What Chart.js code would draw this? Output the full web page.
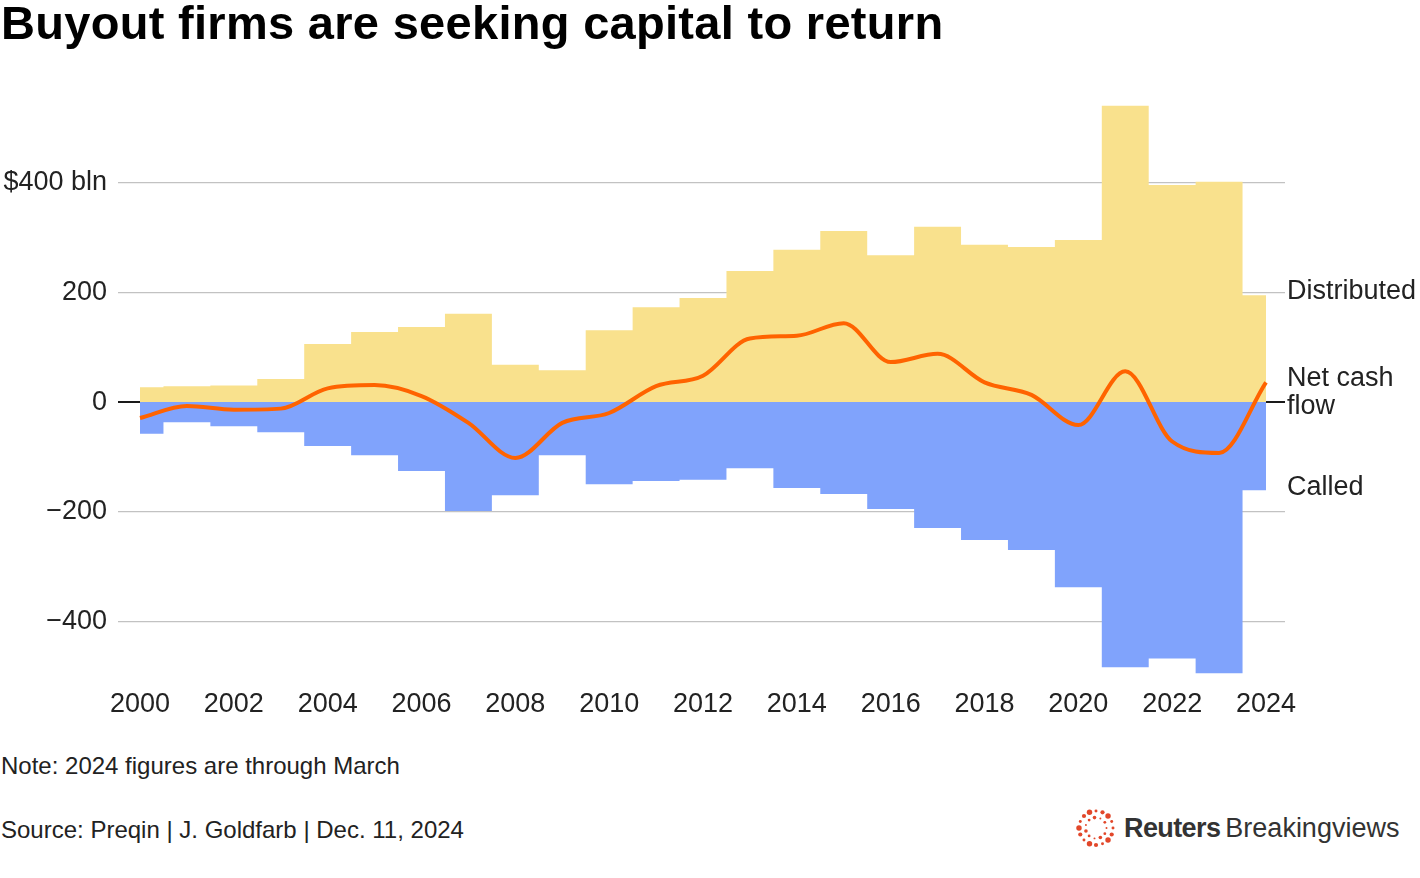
<!DOCTYPE html>
<html lang="en">
<head>
    <meta charset="UTF-8">
    <title>Buyout firms are seeking capital to return</title>
    <script src="https://cdn.jsdelivr.net/npm/chart.js@4.4.1/dist/chart.umd.min.js"></script>
    <style>
        body {
            margin: 0;
            padding: 0;
            background: #fff;
            font-family: 'Liberation Sans', Arial, Helvetica, sans-serif;
            color: #222;
        }

        .page {
            position: relative;
            width: 1420px;
            height: 878px;
            overflow: hidden;
        }

        h1 {
            position: absolute;
            left: 1px;
            top: -5px;
            margin: 0;
            font-size: 47px;
            font-weight: bold;
            letter-spacing: 0.3px;
            color: #000;
        }

        #chart {
            position: absolute;
            left: 0;
            top: 0;
        }

        .note {
            position: absolute;
            left: 1px;
            font-size: 24px;
            color: #222;
        }

        .logo {
            position: absolute;
            left: 1076px;
            top: 808px;
            display: flex;
            align-items: center;
            font-size: 27px;
            color: #333;
        }

        .logo b {
            margin-left: 8px;
            margin-right: 5px;
            letter-spacing: -0.6px;
        }
    </style>
</head>
<body>
    <div class="page">
        <canvas id="chart" width="1420" height="740"></canvas>
        <h1>Buyout firms are seeking capital to return</h1>
        <div class="note" style="top: 752px;">Note: 2024 figures are through March</div>
        <div class="note" style="top: 816px;">Source: Preqin | J. Goldfarb | Dec. 11, 2024</div>
        <div class="logo">
            <svg id="dots" width="40" height="40" viewBox="-20 -20 40 40"></svg>
            <b>Reuters</b><span>Breakingviews</span>
        </div>
    </div>

    <script>
        // Values ($ bln)
        const years = [2000, 2001, 2002, 2003, 2004, 2005, 2006, 2007, 2008, 2009, 2010, 2011,
                       2012, 2013, 2014, 2015, 2016, 2017, 2018, 2019, 2020, 2021, 2022, 2023, 2024];
        const distributed = [27, 29, 30, 42, 106, 128, 137, 161, 68, 58, 131, 173,
                             190, 239, 278, 312, 268, 320, 287, 283, 296, 541, 396, 402, 195];
        const called = [-58, -37, -44, -55, -80, -97, -126, -199, -170, -97, -150, -144,
                        -142, -121, -157, -168, -195, -230, -252, -270, -338, -484, -468, -495, -161];
        const netFlow = [-29, -7, -14, -12, 25, 31, 11, -38, -102, -38, -20, 29,
                         48, 116, 121, 144, 73, 88, 36, 13, -42, 56, -72, -93, 36];
        const xTicks = [2000, 2002, 2004, 2006, 2008, 2010, 2012, 2014, 2016, 2018, 2020, 2022, 2024];
        const yTicks = [-400, -200, 0, 200, 400];

        const toPoints = arr => arr.map((v, i) => ({ x: years[i], y: v }));

        // Series labels to the right of the plot
        const sideLabels = {
            id: 'sideLabels',
            afterDraw(chart) {
                const { ctx, chartArea, scales } = chart;
                const x = chartArea.right + 2;
                ctx.save();
                ctx.font = '27px "Liberation Sans", Arial, sans-serif';
                ctx.fillStyle = '#222';
                ctx.textBaseline = 'middle';
                ctx.fillText('Distributed', x, scales.y.getPixelForValue(201));
                ctx.fillText('Net cash', x, scales.y.getPixelForValue(42));
                ctx.fillText('flow', x, scales.y.getPixelForValue(-8));
                ctx.fillText('Called', x, scales.y.getPixelForValue(-156));
                ctx.restore();
            }
        };

        new Chart(document.getElementById('chart'), {
            type: 'line',
            data: {
                datasets: [
                    {
                        label: 'Net cash flow',
                        data: toPoints(netFlow),
                        borderColor: '#ff6300',
                        borderWidth: 4,
                        pointRadius: 0,
                        fill: false,
                        cubicInterpolationMode: 'monotone',
                        order: 0
                    },
                    {
                        label: 'Distributed',
                        data: toPoints(distributed),
                        stepped: 'middle',
                        borderWidth: 0,
                        pointRadius: 0,
                        backgroundColor: '#f9e18d',
                        fill: 'origin',
                        order: 1
                    },
                    {
                        label: 'Called',
                        data: toPoints(called),
                        stepped: 'middle',
                        borderWidth: 0,
                        pointRadius: 0,
                        backgroundColor: '#80a3fc',
                        fill: 'origin',
                        order: 2
                    }
                ]
            },
            options: {
                responsive: false,
                animation: false,
                layout: {
                    padding: { top: 104, right: 135, left: 0, bottom: 0 }
                },
                plugins: {
                    legend: { display: false },
                    tooltip: { enabled: false }
                },
                scales: {
                    x: {
                        type: 'linear',
                        min: 1999.531,
                        max: 2024.405,
                        afterBuildTicks: s => { s.ticks = xTicks.map(v => ({ value: v })); },
                        afterFit: s => { s.height = 64; },
                        grid: { display: false, drawTicks: false },
                        border: { display: false },
                        ticks: {
                            padding: 12,
                            color: '#222',
                            font: { family: '"Liberation Sans", Arial, sans-serif', size: 27 },
                            callback: v => String(v),
                            maxRotation: 0
                        }
                    },
                    y: {
                        min: -500,
                        max: 544,
                        z: 1,
                        afterBuildTicks: s => { s.ticks = yTicks.map(v => ({ value: v })); },
                        afterFit: s => { s.width = 118; },
                        grid: {
                            drawTicks: false,
                            color: ctx => ctx.tick.value === 0 ? '#1a1a1a' : 'rgba(0,0,0,0.24)',
                            lineWidth: ctx => ctx.tick.value === 0 ? 2 : 1.2
                        },
                        border: { display: false },
                        ticks: {
                            padding: 11,
                            color: '#222',
                            font: { family: '"Liberation Sans", Arial, sans-serif', size: 27 },
                            callback: v => v === 400 ? '$400 bln' : (v < 0 ? '\u2212' + Math.abs(v) : String(v))
                        }
                    }
                }
            },
            plugins: [sideLabels]
        });

        // Reuters dot-ring logo
        const svg = document.getElementById('dots');
        const ns = 'http://www.w3.org/2000/svg';
        const rings = [{ r: 17, n: 16, size: 2.1 }, { r: 10.5, n: 11, size: 1.4 }];
        rings.forEach(ring => {
            for (let i = 0; i < ring.n; i++) {
                const a = (i / ring.n) * Math.PI * 2;
                const c = document.createElementNS(ns, 'circle');
                c.setAttribute('cx', (Math.cos(a) * ring.r).toFixed(2));
                c.setAttribute('cy', (Math.sin(a) * ring.r).toFixed(2));
                c.setAttribute('r', (ring.size * (0.7 + 0.6 * ((i % 3) / 2))).toFixed(2));
                c.setAttribute('fill', '#e2472a');
                svg.appendChild(c);
            }
        });
    </script>
</body>
</html>
